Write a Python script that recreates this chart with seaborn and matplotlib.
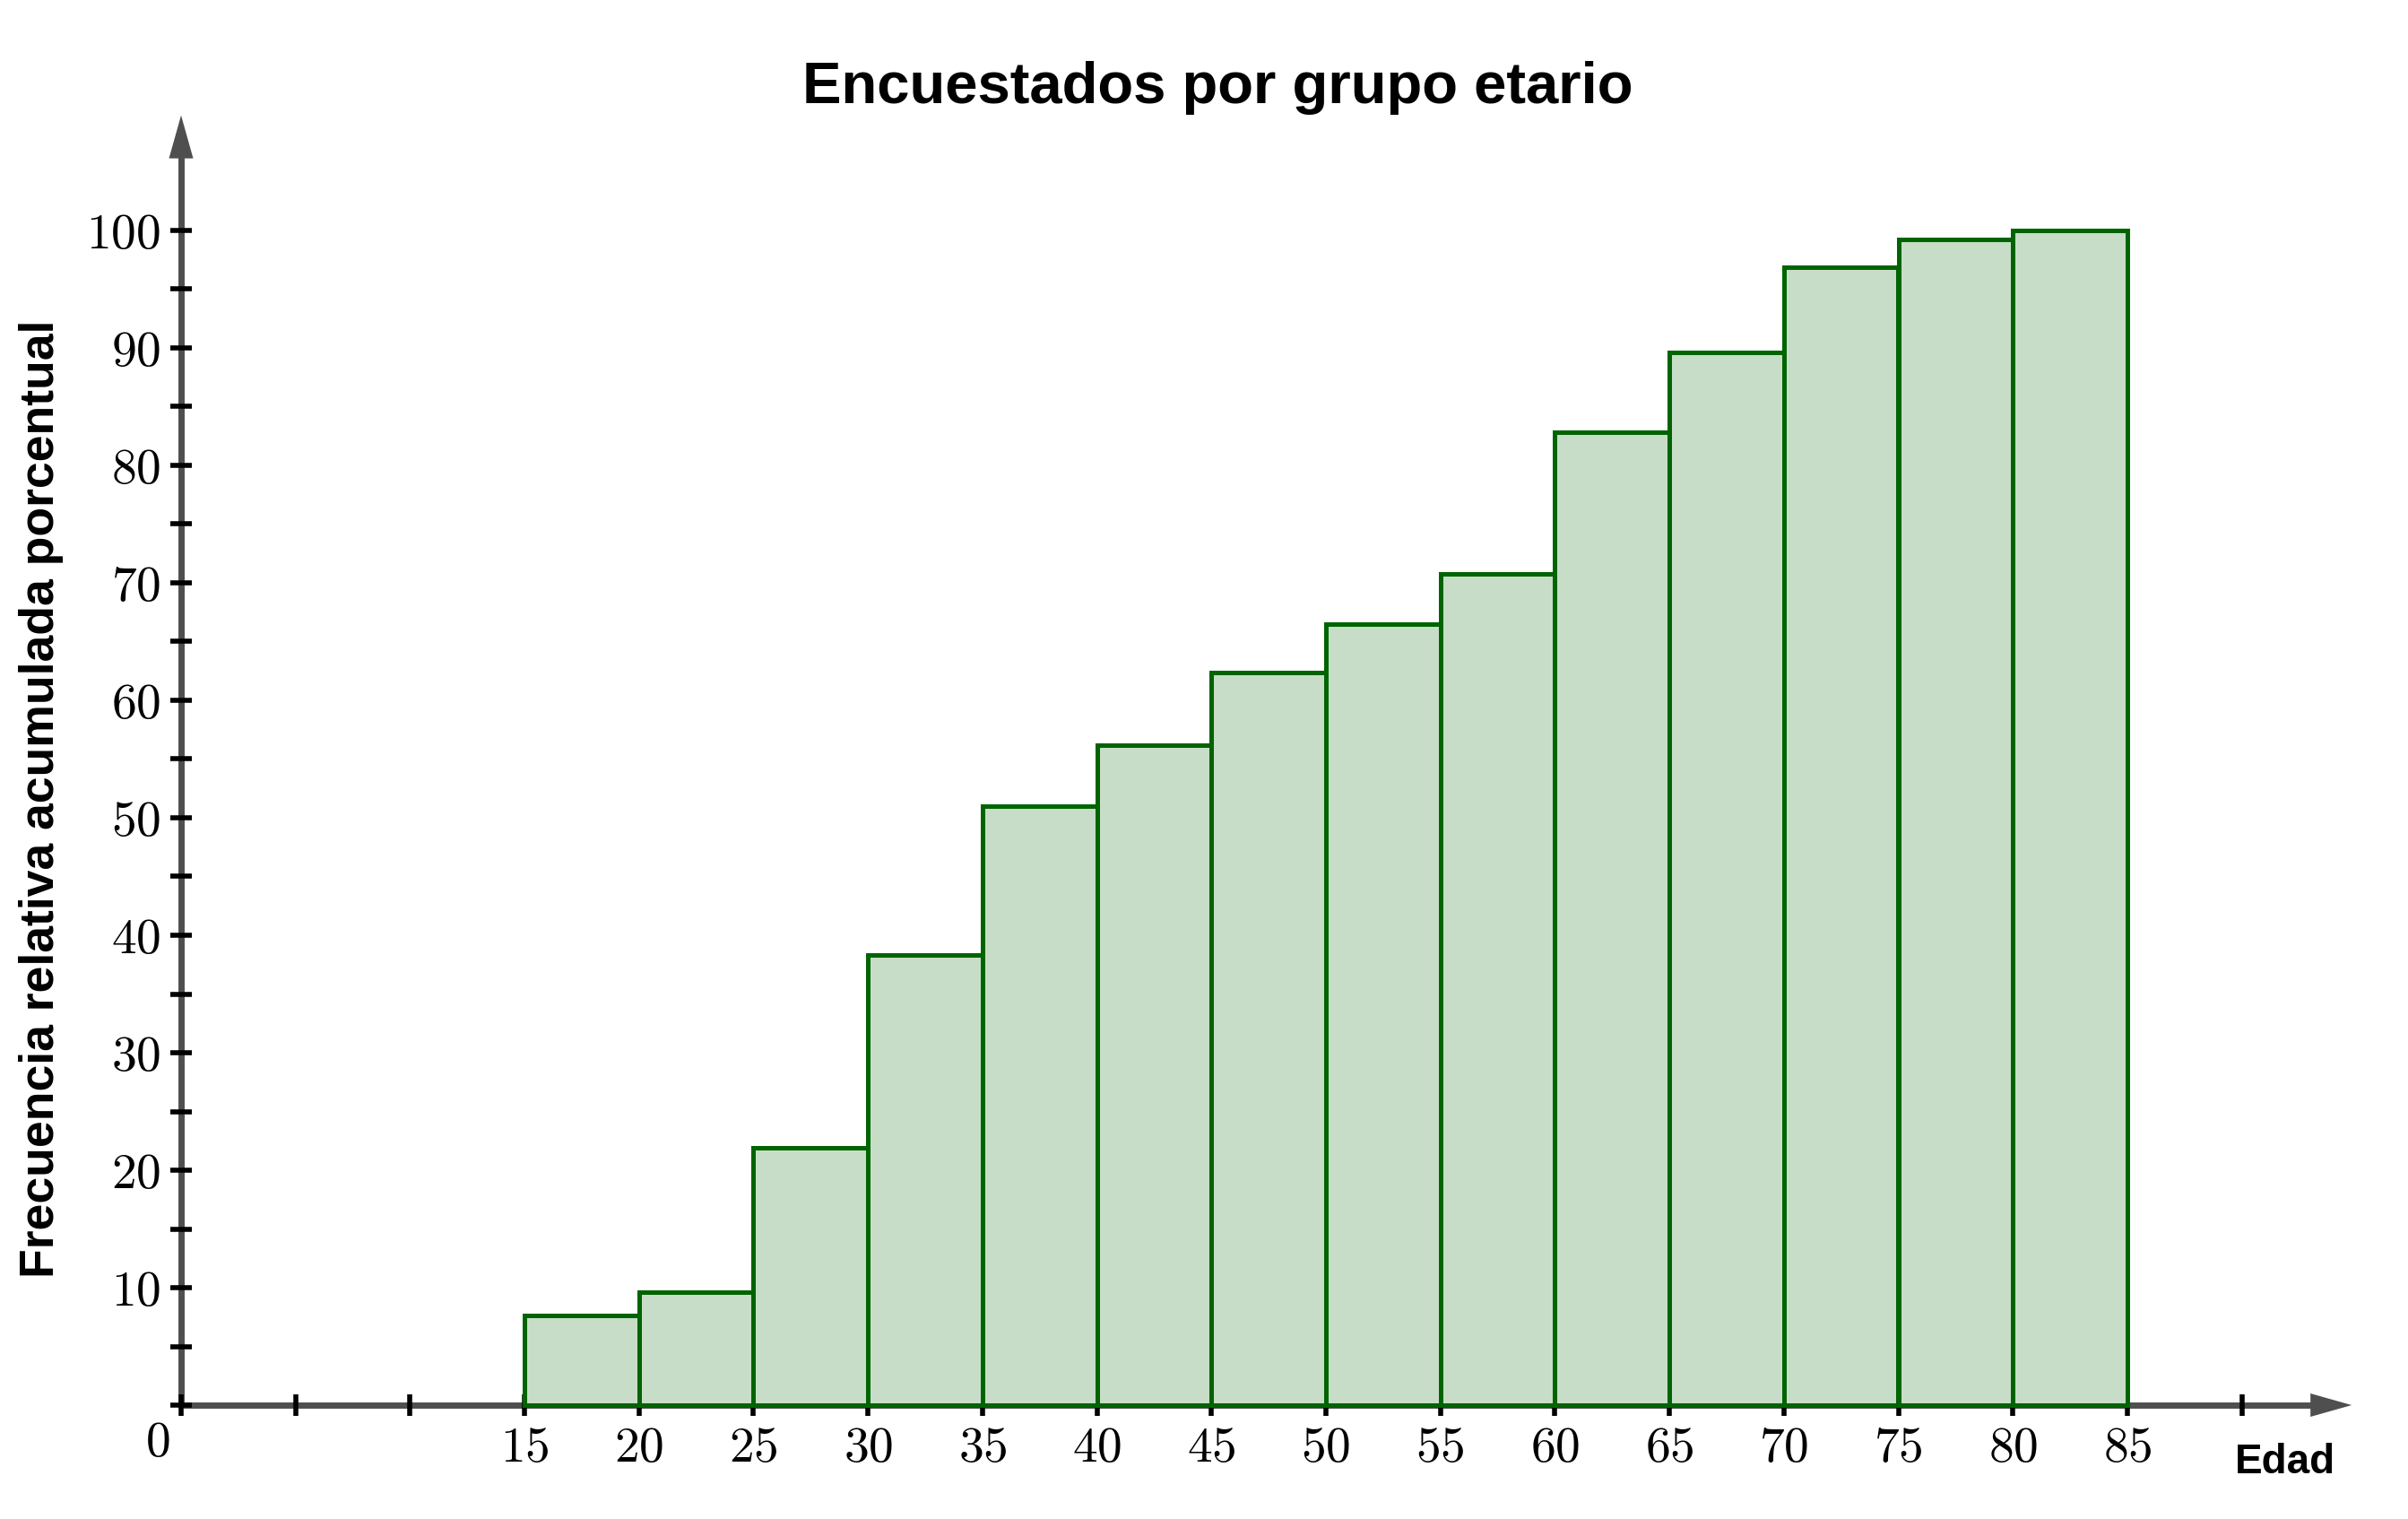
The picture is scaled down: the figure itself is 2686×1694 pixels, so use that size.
import matplotlib
matplotlib.use("Agg")
import numpy as np
import pandas as pd
import matplotlib.pyplot as plt
import seaborn as sns
from matplotlib.patches import Polygon

# ---------------- data ----------------
bin_edges = [15, 20, 25, 30, 35, 40, 45, 50, 55, 60, 65, 70, 75, 80, 85]
cum_pct = [7.6, 9.6, 21.9, 38.3, 51.0, 56.2, 62.4, 66.5, 70.8, 82.8, 89.6, 96.9, 99.2, 100.0]
x_tick_values = list(range(0, 95, 5))
x_labelled = list(range(15, 90, 5))
y_tick_values = list(range(0, 105, 5))
y_labelled = list(range(10, 110, 10))

title = "Encuestados por grupo etario"
xlabel = "Edad"
ylabel = "Frecuencia relativa acumulada porcentual"

# ---------------- style ----------------
FILL = "#c7ddc7"
EDGE = "#006400"
AXIS = "#4f4f4f"

sns.set_style("white")
plt.rcParams['font.family'] = ['Liberation Sans', 'DejaVu Sans']
plt.rcParams['mathtext.fontset'] = 'cm'
plt.rcParams['text.color'] = 'black'
plt.rcParams['axes.labelcolor'] = 'black'
plt.rcParams['axes.axisbelow'] = False

W, H = 2686, 1694
fig = plt.figure(figsize=(W / 100, H / 100), dpi=100)
ax = fig.add_axes([0, 0, 1, 1])
ax.set_facecolor("white")
ax.set_axisbelow(False)

mids = [(a + b) / 2 for a, b in zip(bin_edges[:-1], bin_edges[1:])]
df = pd.DataFrame({"mid": mids, "pct": cum_pct})
sns.histplot(data=df, x="mid", weights="pct", bins=bin_edges, color=FILL, alpha=1,
             edgecolor=EDGE, linewidth=3.6, zorder=3, ax=ax)
ax.set_xlabel("")
ax.set_ylabel("")

# map data to pixels: x=0 at px 202, 25.54 px/unit ; y=0 at px 1567 from top, 13.1 px/unit
X0, UX = 202, 25.54
Y0, UY = 1567, 13.1
ax.set_xlim(-X0 / UX, (W - X0) / UX)
ax.set_ylim(-(H - Y0) / UY, Y0 / UY)

# axes through origin
for s in ["top", "right"]:
    ax.spines[s].set_visible(False)
x_tip, y_tip = 94.8, 109.8
x_head = 46 / UX
y_head = 48 / UY
ax.spines["left"].set_position(("data", 0))
ax.spines["bottom"].set_position(("data", 0))
ax.spines["left"].set_bounds(0, y_tip - y_head + 0.3)
ax.spines["bottom"].set_bounds(0, x_tip - x_head + 0.3)
for s in ["left", "bottom"]:
    ax.spines[s].set_color(AXIS)
    ax.spines[s].set_linewidth(5)
    ax.spines[s].set_zorder(2.0)
ax.xaxis.set_zorder(2.7)
ax.yaxis.set_zorder(2.7)

# arrow heads
ax.add_patch(Polygon([[x_tip - x_head, -13 / UY], [x_tip, 0], [x_tip - x_head, 13 / UY]],
                     closed=True, facecolor=AXIS, edgecolor=AXIS, lw=0, zorder=2.1))
ax.add_patch(Polygon([[-13.5 / UX, y_tip - y_head], [0, y_tip], [13.5 / UX, y_tip - y_head]],
                     closed=True, facecolor=AXIS, edgecolor=AXIS, lw=0, zorder=2.1))

# ticks
ax.set_xticks(x_tick_values)
ax.set_xticklabels([f"${v}$" if v in x_labelled else "" for v in x_tick_values])
ax.set_yticks(y_tick_values)
ax.set_yticklabels([f"${v}$" if v in y_labelled else "" for v in y_tick_values])
ax.tick_params(axis="both", which="major", bottom=True, left=True, top=False, right=False,
               direction="inout", length=17, width=4, color="black",
               labelsize=40, labelcolor="black")
ax.tick_params(axis="x", pad=8)
ax.tick_params(axis="y", pad=8)

# texts
fig.text(176 / W, 1 - 1610 / H, "$0$", fontsize=40, ha="center", va="center", color="black")
fig.text(1358 / W, 1 - 98 / H, title, fontsize=47, fontweight="bold", ha="center", va="center",
         color="black")
fig.text(2549 / W, 1 - 1631 / H, xlabel, fontsize=33, fontweight="bold", ha="center", va="center",
         color="black")
fig.text(46 / W, 1 - 891 / H, ylabel, fontsize=38.5, fontweight="bold", rotation=90,
         ha="center", va="center", color="black")

fig.savefig("out.png", dpi=100)
